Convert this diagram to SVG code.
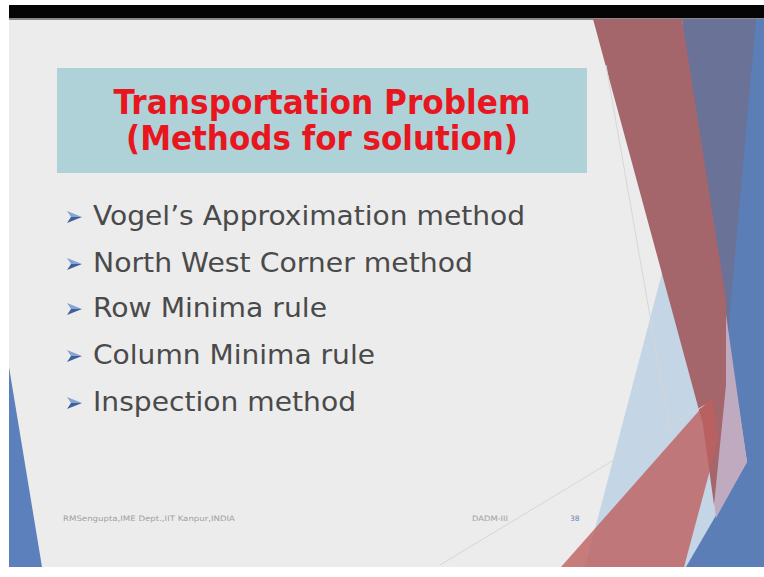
<svg xmlns="http://www.w3.org/2000/svg" xmlns:xlink="http://www.w3.org/1999/xlink" width="764" height="577" viewBox="0 0 764 577">
<style>
.title{font-family:"DejaVu Sans","Liberation Sans",sans-serif;font-weight:bold;font-size:33px;fill:#e8161e;text-anchor:middle}
.item{font-family:"DejaVu Sans","Liberation Sans",sans-serif;font-size:27px;fill:#4a4a4a}
.foot{font-family:"DejaVu Sans","Liberation Sans",sans-serif;font-size:7.5px;fill:#a0a0a0}
.faint{stroke:#d6d6d6;stroke-width:1;fill:none}
</style>
<defs>
<g id="arrow">
<polygon points="0,0 15,6 4,6" fill="#86a3d2"/>
<polygon points="0,12 15,6 4,6" fill="#3d5f9c"/>
</g>
</defs>
<rect x="0" y="0" width="764" height="577" fill="#ffffff"/>
<rect x="9" y="5" width="755" height="14" fill="#050505"/>
<rect x="9" y="19" width="755" height="548" fill="#ececec"/>
<rect x="9" y="18" width="755" height="2" fill="#8a8a8a"/>
<g id="decor">
<polygon points="690,19 764,19 764,567 650,567" fill="#5b7eb6"/>
<polygon points="682,19 756,19 731,300 727,360 700,200" fill="#6b7298"/>
<polygon points="668,250 727,330 747,462 686,567 585,567" fill="#c4d5e6"/>
<polygon points="724,300 747,462 716,518 706,430" fill="#bfaac0"/>
<polygon points="593,19 682,19 726,300 726,385 714,505 703,425" fill="#a4666a"/>
<line class="faint" x1="606" y1="65" x2="670" y2="430"/>
<line class="faint" x1="440" y1="565" x2="705" y2="405"/>
<polygon points="561,567 712,396 718,440 684,567" fill="rgb(190,95,95)" fill-opacity="0.8"/>
<polygon points="9,367 9,567 42,567" fill="#5b80bb"/>
</g>
<g id="title">
<rect x="57" y="68" width="530" height="105" fill="#aed2d8"/>
<text class="title" x="322" y="114" textLength="417" lengthAdjust="spacingAndGlyphs">Transportation Problem</text>
<text class="title" x="322" y="150" textLength="392" lengthAdjust="spacingAndGlyphs">(Methods for solution)</text>
</g>
<g id="item1">
<use xlink:href="#arrow" x="67" y="211"/>
<text class="item" x="93" y="225" textLength="432" lengthAdjust="spacingAndGlyphs">Vogel’s Approximation method</text>
</g>
<g id="item2">
<use xlink:href="#arrow" x="67" y="258"/>
<text class="item" x="93" y="272" textLength="380" lengthAdjust="spacingAndGlyphs">North West Corner method</text>
</g>
<g id="item3">
<use xlink:href="#arrow" x="67" y="303"/>
<text class="item" x="93" y="317" textLength="234" lengthAdjust="spacingAndGlyphs">Row Minima rule</text>
</g>
<g id="item4">
<use xlink:href="#arrow" x="67" y="350"/>
<text class="item" x="93" y="364" textLength="282" lengthAdjust="spacingAndGlyphs">Column Minima rule</text>
</g>
<g id="item5">
<use xlink:href="#arrow" x="67" y="397"/>
<text class="item" x="93" y="411" textLength="263" lengthAdjust="spacingAndGlyphs">Inspection method</text>
</g>
<g id="footer">
<text class="foot" x="63" y="521" textLength="172" lengthAdjust="spacingAndGlyphs">RMSengupta,IME Dept.,IIT Kanpur,INDIA</text>
<text class="foot" x="472" y="521" textLength="36" lengthAdjust="spacingAndGlyphs">DADM-III</text>
<text class="foot" x="570" y="521" style="fill:#6a86b8">38</text>
</g>
<g id="connectors"/>
</svg>
